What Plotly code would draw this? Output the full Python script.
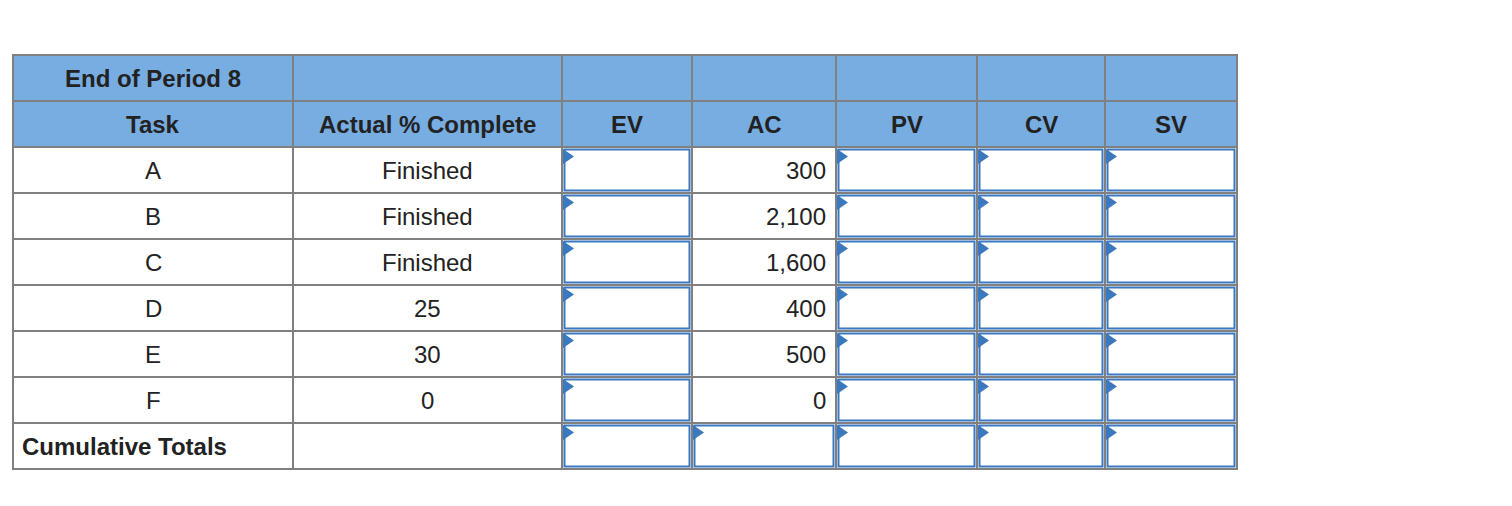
import plotly.graph_objects as go

# table content
header_top = ["End of Period 8", "", "", "", "", "", ""]
header_cols = ["Task", "Actual % Complete", "EV", "AC", "PV", "CV", "SV"]
tasks = ["A", "B", "C", "D", "E", "F"]
pct_complete = ["Finished", "Finished", "Finished", "25", "30", "0"]
actual_cost = ["300", "2,100", "1,600", "400", "500", "0"]
totals_label = "Cumulative Totals"

col_edges = [13, 293, 562, 692, 836, 977, 1105, 1237]
row_edges = [55, 101, 147, 193, 239, 285, 331, 377, 423, 469]

HEADER_FILL = "#78ade1"
GRID = "#808080"
INPUT = "#3a78bf"
FONT = "Liberation Sans, Arial, sans-serif"

fig = go.Figure()
shapes = []
annotations = []


def cell(c, r, fill="white"):
    shapes.append(dict(type="rect", x0=col_edges[c], x1=col_edges[c + 1],
                       y0=row_edges[r], y1=row_edges[r + 1],
                       fillcolor=fill, line=dict(color=GRID, width=2), layer="below"))


def input_box(c, r):
    x0, x1 = col_edges[c], col_edges[c + 1]
    y0, y1 = row_edges[r], row_edges[r + 1]
    shapes.append(dict(type="rect", x0=x0 + 2.5, x1=x1 - 2.5, y0=y0 + 2.5, y1=y1 - 2.5,
                       line=dict(color=INPUT, width=2), fillcolor="rgba(0,0,0,0)"))
    shapes.append(dict(type="path",
                       path=f"M {x0+1},{y0+2} L {x0+1},{y0+17} L {x0+12},{y0+9.5} Z",
                       fillcolor=INPUT, line=dict(width=0)))


def text(c, r, s, bold=False, align="center"):
    if not s:
        return
    x0, x1 = col_edges[c], col_edges[c + 1]
    ym = (row_edges[r] + row_edges[r + 1]) / 2
    if align == "center":
        x, xa = (x0 + x1) / 2, "center"
    elif align == "right":
        x, xa = x1 - 8, "right"
    else:
        x, xa = x0 + 7, "left"
    annotations.append(dict(x=x, y=ym, text=f"<b>{s}</b>" if bold else s, showarrow=False,
                            xanchor=xa, yanchor="middle",
                            font=dict(family=FONT, size=24, color="#222222")))


for c, s in enumerate(header_top):
    cell(c, 0, HEADER_FILL)
    text(c, 0, s, bold=True)
for c, s in enumerate(header_cols):
    cell(c, 1, HEADER_FILL)
    text(c, 1, s, bold=True)

for i, t in enumerate(tasks):
    r = i + 2
    for c in range(7):
        cell(c, r)
    text(0, r, t)
    text(1, r, pct_complete[i])
    text(3, r, actual_cost[i], align="right")
    for c in (2, 4, 5, 6):
        input_box(c, r)

r = 8
for c in range(7):
    cell(c, r)
text(0, r, totals_label, bold=True, align="left")
for c in (2, 3, 4, 5, 6):
    input_box(c, r)

# left accent line
shapes.append(dict(type="line", x0=1.5, x1=1.5, y0=0, y1=496,
                   line=dict(color="#8ab8f5", width=3)))

fig.update_layout(
    width=1512, height=506,
    margin=dict(l=0, r=0, t=0, b=0),
    paper_bgcolor="white", plot_bgcolor="white",
    # offset by the 8px page margin so cells land where they sit in the reference
    xaxis=dict(range=[8, 1520], visible=False, fixedrange=True),
    yaxis=dict(range=[514, 8], visible=False, fixedrange=True),
    shapes=shapes, annotations=annotations,
    showlegend=False,
)
fig.write_html("out.html")
